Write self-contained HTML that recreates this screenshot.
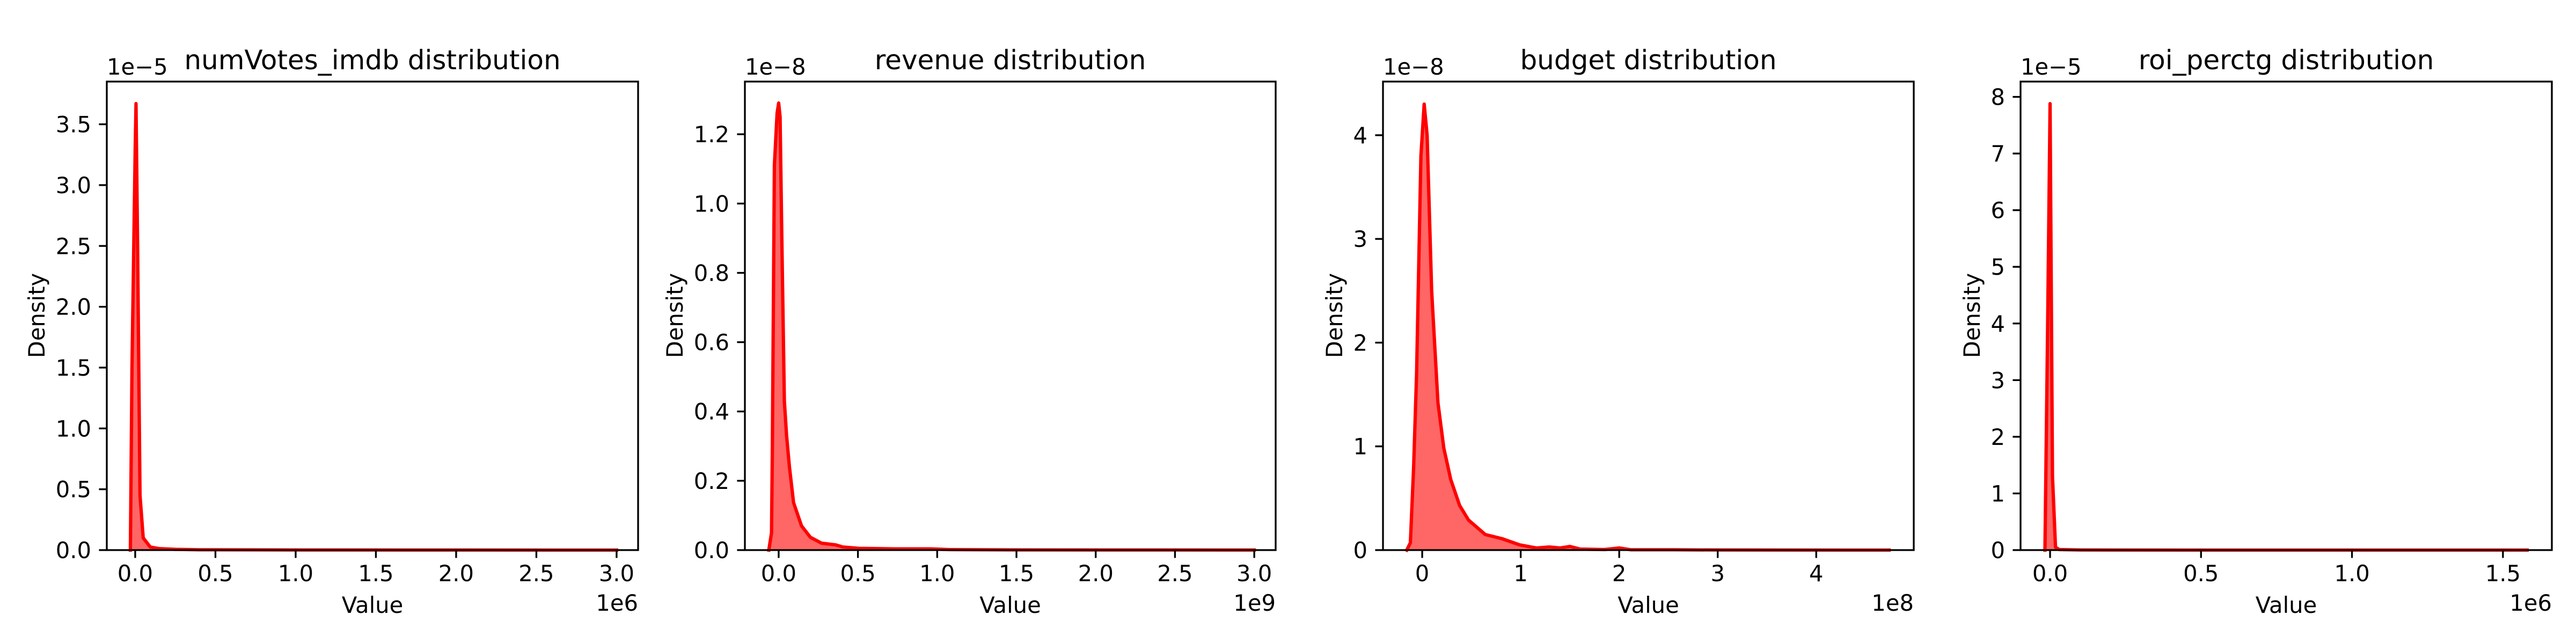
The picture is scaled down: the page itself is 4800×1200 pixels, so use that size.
<!DOCTYPE html>
<html><head><meta charset="utf-8"><style>
html,body{margin:0;padding:0;background:#fff;}
svg{display:block;font-family:"DejaVu Sans","Liberation Sans",sans-serif;}
</style></head><body>
<svg id="fig" width="4800" height="1200" viewBox="0 0 4800 1200" xmlns="http://www.w3.org/2000/svg"></svg>
<script>
// ---- data (scaled units: x in 1eN, y in 1eM) ----
const titles = ["numVotes_imdb distribution","revenue distribution","budget distribution","roi_perctg distribution"];
const xOffsets = ["1e6","1e9","1e8","1e6"];
const yOffsets = ["1e\u22125","1e\u22128","1e\u22128","1e\u22125"];
const xTickVals1 = [0,0.5,1,1.5,2,2.5,3];
const xTickVals2 = [0,0.5,1,1.5,2,2.5,3];
const xTickVals3 = [0,1,2,3,4];
const xTickVals4 = [0,0.5,1,1.5];
const xTickLabels1 = ["0.0","0.5","1.0","1.5","2.0","2.5","3.0"];
const xTickLabels2 = ["0.0","0.5","1.0","1.5","2.0","2.5","3.0"];
const xTickLabels3 = ["0","1","2","3","4"];
const xTickLabels4 = ["0.0","0.5","1.0","1.5"];
const yTickVals1 = [0,0.5,1,1.5,2,2.5,3,3.5];
const yTickVals2 = [0,0.2,0.4,0.6,0.8,1.0,1.2];
const yTickVals3 = [0,1,2,3,4];
const yTickVals4 = [0,1,2,3,4,5,6,7,8];
const yTickLabels1 = ["0.0","0.5","1.0","1.5","2.0","2.5","3.0","3.5"];
const yTickLabels2 = ["0.0","0.2","0.4","0.6","0.8","1.0","1.2"];
const yTickLabels3 = ["0","1","2","3","4"];
const yTickLabels4 = ["0","1","2","3","4","5","6","7","8"];
const numVotesX = [-0.03,-0.02,0,0.005,0.015,0.03,0.05,0.094,0.15,0.25,0.4,1,2,3.0];
const numVotesY = [0,1.5,3.3,3.67,2.5,0.45,0.1,0.025,0.012,0.006,0.003,0.001,0.0005,0];
const revenueX = [-0.062,-0.045,-0.04,-0.027,-0.01,0,0.009,0.02,0.036,0.05,0.068,0.094,0.144,0.2,0.27,0.36,0.404,0.506,0.73,0.96,1.07,1.5,3.0];
const revenueY = [0,0.05,0.28,1.11,1.26,1.29,1.25,0.9,0.43,0.33,0.24,0.137,0.07,0.037,0.02,0.015,0.009,0.005,0.0035,0.0035,0.0015,0.0005,0.0002];
const budgetX = [-0.157,-0.12,-0.087,-0.057,-0.013,0.02,0.05,0.096,0.16,0.22,0.29,0.38,0.47,0.64,0.81,0.99,1.16,1.29,1.4,1.5,1.6,1.85,2.0,2.12,2.55,3.0,4.74];
const budgetY = [0,0.07,0.8,1.7,3.8,4.3,4.0,2.5,1.42,0.98,0.68,0.43,0.29,0.15,0.11,0.05,0.02,0.03,0.02,0.035,0.01,0.005,0.02,0.003,0.003,0.001,0];
const roiX = [-0.017,-0.008,0,0.008,0.018,0.03,0.1,0.5,1.0,1.58];
const roiY = [0,4,7.88,1.3,0.05,0.01,0.002,0,0,0];

// ---- layout ----
const panels = [
  {L:199,R:1189,xd:[-0.177,3.134],yd:[0,3.851],xs:numVotesX,ys:numVotesY,xt:xTickVals1,xl:xTickLabels1,yt:yTickVals1,yl:yTickLabels1,labX:68},
  {L:1388,R:2377,xd:[-0.213,3.135],yd:[0,1.352],xs:revenueX,ys:revenueY,xt:xTickVals2,xl:xTickLabels2,yt:yTickVals2,yl:yTickLabels2,labX:1257},
  {L:2577,R:3566,xd:[-0.398,4.99],yd:[0,4.517],xs:budgetX,ys:budgetY,xt:xTickVals3,xl:xTickLabels3,yt:yTickVals3,yl:yTickLabels3,labX:2486},
  {L:3765,R:4755,xd:[-0.0978,1.662],yd:[0,8.27],xs:roiX,ys:roiY,xt:xTickVals4,xl:xTickLabels4,yt:yTickVals4,yl:yTickLabels4,labX:3674}
];
const T=152,B=1025;
const NS="http://www.w3.org/2000/svg";
const svg=document.getElementById("fig");
function mk(tag,attrs,parent,text){const e=document.createElementNS(NS,tag);for(const k in attrs)e.setAttribute(k,attrs[k]);if(text!==undefined)e.textContent=text;(parent||svg).appendChild(e);return e;}

panels.forEach((p,i)=>{
  const g=mk("g",{});
  
  
  const sx=v=>p.L+(v-p.xd[0])/(p.xd[1]-p.xd[0])*(p.R-p.L);
  const sy=v=>B-(v-p.yd[0])/(p.yd[1]-p.yd[0])*(B-T);
  let d="M"+sx(p.xs[0])+","+sy(0);
  p.xs.forEach((x,j)=>{d+=" L"+sx(x)+","+sy(p.ys[j]);});
  d+=" L"+sx(p.xs[p.xs.length-1])+","+sy(0)+" Z";
  const area=mk("path",{d:d,fill:"#ff0000","fill-opacity":"0.6",stroke:"none"},g);
  
  
  let ld="";
  p.xs.forEach((x,j)=>{ld+=(j?" L":"M")+sx(x)+","+sy(p.ys[j]);});
  const line=mk("path",{d:ld,fill:"none",stroke:"#ff0000","stroke-width":6.25,"stroke-linejoin":"round","stroke-linecap":"square"},g);
  
  
  const fr=mk("rect",{x:p.L,y:T,width:p.R-p.L,height:B-T,fill:"none",stroke:"#000","stroke-width":3.33},g);
  
  
  p.xt.forEach((v,j)=>{
    const x=sx(v);
    const t=mk("line",{x1:x,x2:x,y1:B,y2:B+14.6,stroke:"#000","stroke-width":3.33},g);
    
    
    const tl=mk("text",{x:x,y:1083,"font-size":41.7,"text-anchor":"middle"},g,p.xl[j]);
    
    
  });
  p.yt.forEach((v,j)=>{
    const y=sy(v);
    const t=mk("line",{x1:p.L-14.6,x2:p.L,y1:y,y2:y,stroke:"#000","stroke-width":3.33},g);
    
    
    const tl=mk("text",{x:p.L-29,y:y+15,"font-size":41.7,"text-anchor":"end"},g,p.yl[j]);
    
    
  });
  const ti=mk("text",{x:(p.L+p.R)/2,y:129,"font-size":50,"text-anchor":"middle"},g,titles[i]);
  
  
  const yo=mk("text",{x:p.L,y:139,"font-size":41.7},g,yOffsets[i]);
  
  
  const xo=mk("text",{x:p.R,y:1138,"font-size":41.7,"text-anchor":"end"},g,xOffsets[i]);
  
  
  const xl=mk("text",{x:(p.L+p.R)/2,y:1142,"font-size":41.7,"text-anchor":"middle"},g,"Value");
  
  
  const yl=mk("text",{x:0,y:0,"font-size":41.7,"text-anchor":"middle",transform:"translate("+(p.labX+15)+",588) rotate(-90)"},g,"Density");
  
  
});
</script>
</body></html>
